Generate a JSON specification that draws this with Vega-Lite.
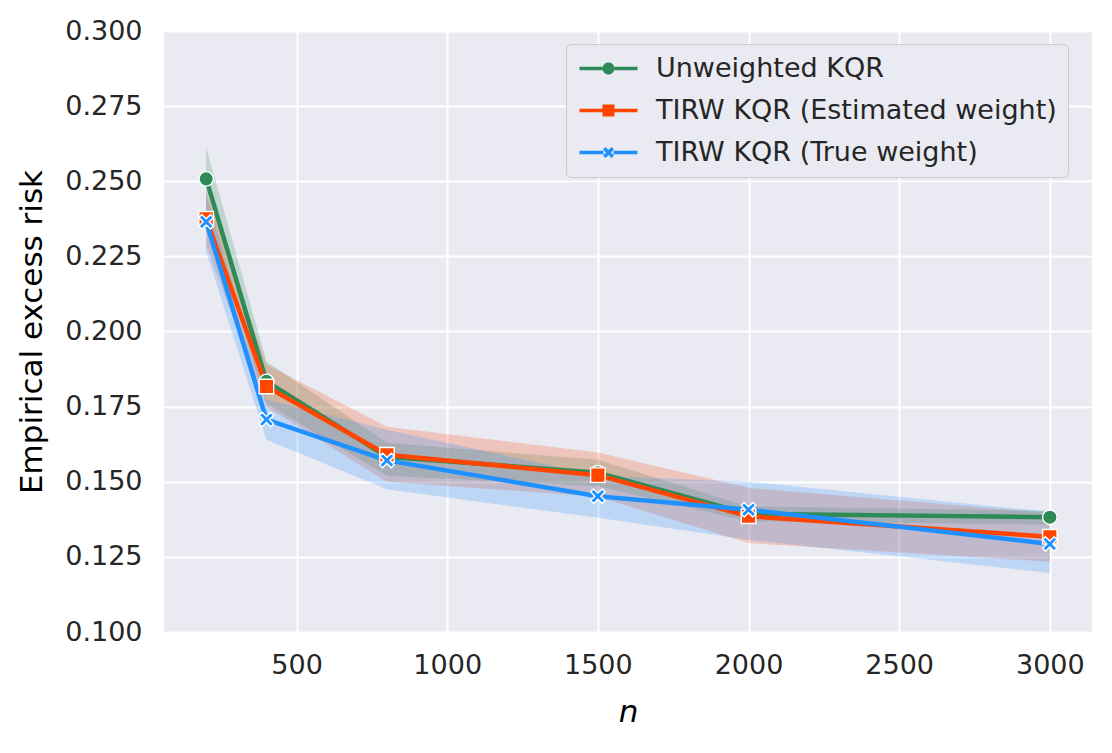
{
  "$schema": "https://vega.github.io/schema/vega-lite/v6.json",
  "width": 928,
  "height": 601,
  "autosize": "none",
  "padding": {"left": 164, "top": 31, "right": 20, "bottom": 121},
  "background": "white",
  "config": {
    "font": "DejaVu Sans",
    "view": {"fill": "#EAEAF2", "stroke": null},
    "axis": {
      "domain": false,
      "ticks": false,
      "grid": true,
      "gridColor": "white",
      "gridWidth": 2,
      "labelFont": "DejaVu Sans",
      "labelFontSize": 27,
      "labelColor": "#262626",
      "titleFont": "DejaVu Sans",
      "titleFontSize": 31,
      "titleFontWeight": "normal",
      "titleColor": "#000000"
    },
    "legend": {
      "labelFont": "DejaVu Sans",
      "labelFontSize": 27,
      "labelColor": "#262626",
      "labelLimit": 600
    }
  },
  "data": {
    "values": [
      {"method": "Unweighted KQR", "n": 200, "risk": 0.2508, "lo": 0.2400, "hi": 0.2612},
      {"method": "Unweighted KQR", "n": 400, "risk": 0.1834, "lo": 0.1760, "hi": 0.1900},
      {"method": "Unweighted KQR", "n": 800, "risk": 0.1583, "lo": 0.1520, "hi": 0.1630},
      {"method": "Unweighted KQR", "n": 1500, "risk": 0.1530, "lo": 0.1485, "hi": 0.1573},
      {"method": "Unweighted KQR", "n": 2000, "risk": 0.1393, "lo": 0.1368, "hi": 0.1418},
      {"method": "Unweighted KQR", "n": 3000, "risk": 0.1382, "lo": 0.1357, "hi": 0.1404},
      {"method": "TIRW KQR (Estimated weight)", "n": 200, "risk": 0.2375, "lo": 0.2285, "hi": 0.2465},
      {"method": "TIRW KQR (Estimated weight)", "n": 400, "risk": 0.1817, "lo": 0.1750, "hi": 0.1890},
      {"method": "TIRW KQR (Estimated weight)", "n": 800, "risk": 0.1590, "lo": 0.1500, "hi": 0.1683},
      {"method": "TIRW KQR (Estimated weight)", "n": 1500, "risk": 0.1522, "lo": 0.1450, "hi": 0.1597},
      {"method": "TIRW KQR (Estimated weight)", "n": 2000, "risk": 0.1385, "lo": 0.1296, "hi": 0.1480},
      {"method": "TIRW KQR (Estimated weight)", "n": 3000, "risk": 0.1317, "lo": 0.1234, "hi": 0.1396},
      {"method": "TIRW KQR (True weight)", "n": 200, "risk": 0.2365, "lo": 0.2265, "hi": 0.2455},
      {"method": "TIRW KQR (True weight)", "n": 400, "risk": 0.1707, "lo": 0.1640, "hi": 0.1773},
      {"method": "TIRW KQR (True weight)", "n": 800, "risk": 0.1571, "lo": 0.1475, "hi": 0.1673},
      {"method": "TIRW KQR (True weight)", "n": 1500, "risk": 0.1452, "lo": 0.1380, "hi": 0.1520},
      {"method": "TIRW KQR (True weight)", "n": 2000, "risk": 0.1407, "lo": 0.1307, "hi": 0.1500},
      {"method": "TIRW KQR (True weight)", "n": 3000, "risk": 0.1293, "lo": 0.1196, "hi": 0.1400}
    ]
  },
  "encoding": {
    "x": {
      "field": "n",
      "type": "quantitative",
      "scale": {"domain": [60, 3140], "nice": false, "zero": false},
      "axis": {
        "title": "n",
        "titleFontStyle": "italic",
        "format": "d",
        "values": [500, 1000, 1500, 2000, 2500, 3000],
        "labelPadding": 20,
        "titlePadding": 19
      }
    }
  },
  "layer": [
    {
      "mark": {"type": "area", "fillOpacity": 0.22},
      "encoding": {
        "y": {
          "field": "lo",
          "type": "quantitative",
          "scale": {"domain": [0.1, 0.3], "nice": false, "zero": false},
          "axis": {
            "title": "Empirical excess risk",
            "values": [0.1, 0.125, 0.15, 0.175, 0.2, 0.225, 0.25, 0.275, 0.3],
            "format": ".3f",
            "labelPadding": 22,
            "titlePadding": 16
          }
        },
        "y2": {"field": "hi"},
        "color": {"field": "method", "type": "nominal"}
      }
    },
    {
      "mark": {"type": "line", "strokeWidth": 4.5},
      "encoding": {
        "y": {"field": "risk", "type": "quantitative"},
        "color": {"field": "method", "type": "nominal"}
      }
    },
    {
      "mark": {"type": "point", "filled": true, "opacity": 1, "stroke": "white", "strokeWidth": 1.4},
      "encoding": {
        "y": {"field": "risk", "type": "quantitative"},
        "size": {"value": 210},
        "color": {
          "field": "method",
          "type": "nominal",
          "scale": {
            "domain": ["Unweighted KQR", "TIRW KQR (Estimated weight)", "TIRW KQR (True weight)"],
            "range": ["#2E8B57", "#FF4500", "#1E90FF"]
          },
          "legend": {
            "title": null,
            "orient": "none",
            "legendX": 402,
            "legendY": 13,
            "padding": 11,
            "rowPadding": 14,
            "symbolSize": 400,
            "symbolStrokeWidth": 0,
            "symbolOpacity": 1,
            "symbolType": {"expr": "datum.value === 'Unweighted KQR' ? 'M-1.1,-0.17H1.2V0.17H-1.1ZM2.4,-0.17H4.7V0.17H2.4ZM1.2,0A0.6,0.6 0 1,0 2.4,0A0.6,0.6 0 1,0 1.2,0Z' : datum.value === 'TIRW KQR (Estimated weight)' ? 'M-1.1,-0.17H1.2V0.17H-1.1ZM2.4,-0.17H4.7V0.17H2.4ZM1.2,-0.6H2.4V0.6H1.2Z' : 'M-1.1,-0.17H1.3V0.17H-1.1ZM2.3,-0.17H4.7V0.17H2.3ZM1.25,-0.3L1.5,-0.55L1.8,-0.25L2.1,-0.55L2.35,-0.3L2.05,0L2.35,0.3L2.1,0.55L1.8,0.25L1.5,0.55L1.25,0.3L1.55,0Z'"},
            "labelOffset": 52,
            "labelLimit": 600,
            "fillColor": "#EAEAF2",
            "strokeColor": "#CCCCCC",
            "cornerRadius": 5
          }
        },
        "shape": {
          "field": "method",
          "type": "nominal",
          "scale": {
            "domain": ["TIRW KQR (Estimated weight)", "Unweighted KQR", "TIRW KQR (True weight)"],
            "range": ["square", "circle", "M-1,-0.6L-0.6,-1L0,-0.42L0.6,-1L1,-0.6L0.42,0L1,0.6L0.6,1L0,0.42L-0.6,1L-1,0.6L-0.42,0Z"]
          },
          "legend": null
        }
      }
    }
  ]
}
